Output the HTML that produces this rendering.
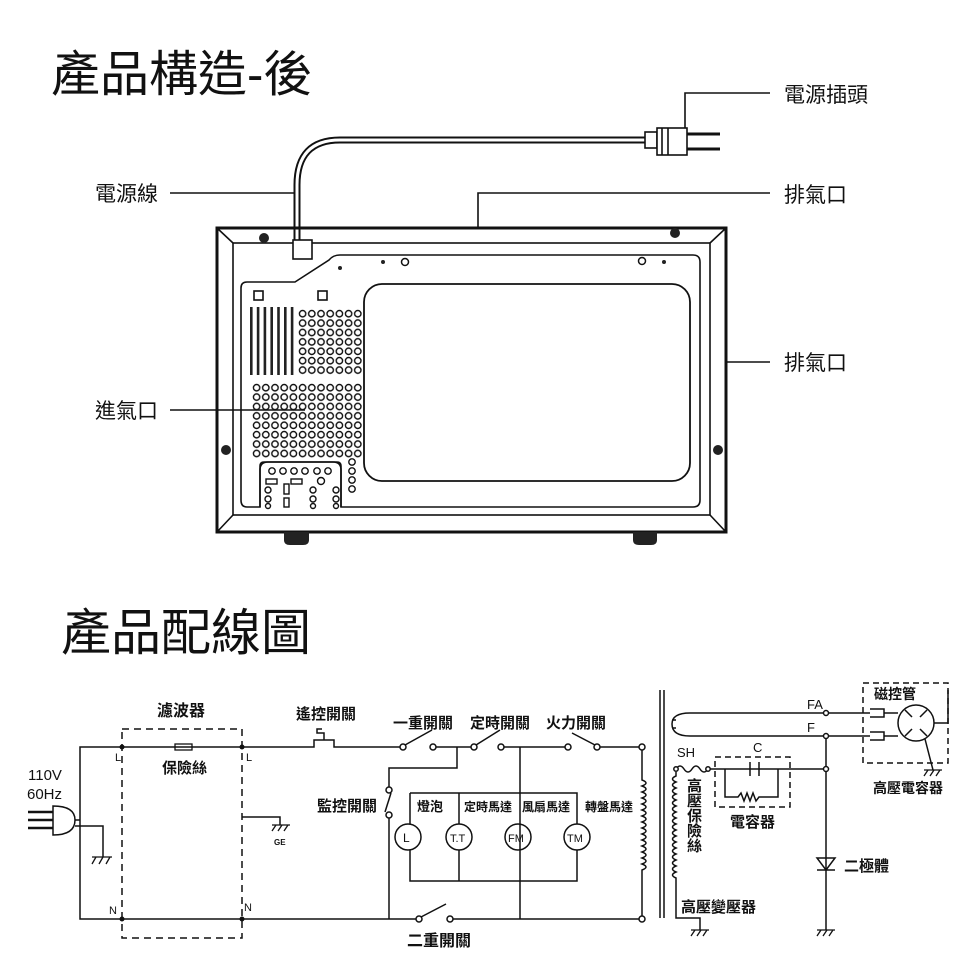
<!DOCTYPE html>
<html><head><meta charset="utf-8"><style>
html,body{margin:0;padding:0;background:#fff}
svg{display:block}
text{font-family:"Liberation Sans","Noto Sans CJK TC",sans-serif;fill:#111}
.b{font-weight:bold}
</style></head><body>
<svg width="980" height="980" viewBox="0 0 980 980" xmlns="http://www.w3.org/2000/svg">
<defs>
<pattern id="holes" x="298" y="309" width="9.2" height="9.4" patternUnits="userSpaceOnUse">
<circle cx="4.6" cy="4.7" r="3.2" fill="none" stroke="#111" stroke-width="1.4"/>
</pattern>
<pattern id="holes2" x="252" y="383" width="9.2" height="9.4" patternUnits="userSpaceOnUse">
<circle cx="4.6" cy="4.7" r="3.2" fill="none" stroke="#111" stroke-width="1.4"/>
</pattern>
</defs>

<!-- Titles -->
<text x="51" y="91" font-size="49">產品構造-後</text>
<text x="61" y="650" font-size="50">產品配線圖</text>

<!-- Labels top -->
<g font-size="21">
<text x="95" y="201">電源線</text>
<text x="95" y="418">進氣口</text>
<text x="784" y="102">電源插頭</text>
<text x="784" y="202">排氣口</text>
<text x="784" y="370">排氣口</text>
</g>
<g stroke="#111" stroke-width="1.6" fill="none">
<path d="M170 193H296"/>
<path d="M170 410H305"/>
<path d="M685 128V93H770"/>
<path d="M478 229V193H770"/>
<path d="M727 362H770"/>
</g>

<!-- cord -->
<path d="M297 241V185Q297 140 340 140H645" fill="none" stroke="#111" stroke-width="7"/>
<path d="M297 241V185Q297 140 340 140H645" fill="none" stroke="#fff" stroke-width="3"/>
<!-- plug -->
<g stroke="#111" stroke-width="1.6" fill="#fff">
<rect x="645" y="132" width="12" height="16"/>
<rect x="657" y="128" width="30" height="27"/>
<path d="M687 134H720M687 149H720" stroke-width="3"/>
<path d="M662 128V155M668 128V155" />
</g>

<!-- microwave body -->
<g stroke="#111" fill="none">
<rect x="217" y="228" width="509" height="304" stroke-width="3"/>
<rect x="233" y="243" width="477" height="272" stroke-width="1.6"/>
<path d="M217 228L233 243M726 228L710 243M217 532L233 515M726 532L710 515" stroke-width="1.6"/>
<path d="M241 288Q241 282 247 282H295L329 260Q333 255 340 255H693Q700 255 700 262V500Q700 507 693 507H341V466Q341 462 337 462H264Q260 462 260 466V507H247Q241 507 241 500Z" stroke-width="1.6"/>
<path d="M260 507V470Q260 462 268 462H333Q341 462 341 470V507" stroke-width="1.6"/>
<rect x="364" y="284" width="326" height="197" rx="18" stroke-width="1.8"/>
<rect x="293" y="240" width="19" height="19" stroke-width="1.6" fill="#fff"/>
<rect x="254" y="291" width="9" height="9" stroke-width="1.6"/>
<rect x="318" y="291" width="9" height="9" stroke-width="1.6"/>
<circle cx="405" cy="262" r="3.5" stroke-width="1.5"/>
<circle cx="642" cy="261" r="3.5" stroke-width="1.5"/>
</g>
<g fill="#222">
<circle cx="340" cy="268" r="2"/><circle cx="383" cy="262" r="2"/><circle cx="664" cy="262" r="2"/>
<circle cx="264" cy="238" r="5"/><circle cx="675" cy="233" r="5"/><circle cx="226" cy="450" r="5"/><circle cx="718" cy="450" r="5"/>
<path d="M284 532H309V540Q309 545 303 545H290Q284 545 284 540Z"/>
<path d="M633 532H657V540Q657 545 651 545H639Q633 545 633 540Z"/>
<rect x="250" y="307" width="2.6" height="68"/><rect x="256.8" y="307" width="2.6" height="68"/>
<rect x="263.6" y="307" width="2.6" height="68"/><rect x="270.4" y="307" width="2.6" height="68"/>
<rect x="277.2" y="307" width="2.6" height="68"/><rect x="284" y="307" width="2.6" height="68"/>
<rect x="290.8" y="307" width="2.6" height="68"/>
</g>
<rect x="298" y="309" width="64.4" height="65.8" fill="url(#holes)"/>
<rect x="252" y="383" width="110.4" height="75.2" fill="url(#holes2)"/>
<g fill="none" stroke="#111" stroke-width="1.4">
<circle cx="352" cy="462" r="3.2"/><circle cx="352" cy="471" r="3.2"/><circle cx="352" cy="480" r="3.2"/><circle cx="352" cy="489" r="3.2"/>
<circle cx="272" cy="471" r="3.2"/><circle cx="283" cy="471" r="3.2"/><circle cx="294" cy="471" r="3.2"/><circle cx="305" cy="471" r="3.2"/><circle cx="317" cy="471" r="3.2"/><circle cx="328" cy="471" r="3.2"/>
<rect x="266" y="479" width="11" height="5"/><rect x="291" y="479" width="11" height="5"/>
<rect x="284" y="484" width="5" height="10"/><rect x="284" y="498" width="5" height="9"/>
<circle cx="321" cy="481" r="3.5"/>
<circle cx="268" cy="490" r="3"/><circle cx="268" cy="499" r="3"/><circle cx="268" cy="506" r="2.5"/>
<circle cx="313" cy="490" r="3"/><circle cx="313" cy="499" r="3"/><circle cx="313" cy="506" r="2.5"/>
<circle cx="336" cy="490" r="3"/><circle cx="336" cy="499" r="3"/><circle cx="336" cy="506" r="2.5"/>
</g>

<!-- ===== Schematic ===== -->
<g stroke="#111" stroke-width="1.5" fill="none">
<path d="M80 820V747H310M338 747H400M436 747H471M504 747H565M600 747H642"/>
<path d="M80 820V919H416M453 919H642"/>
<rect x="122" y="729" width="120" height="209" stroke-dasharray="7,5"/>
<rect x="175" y="744" width="17" height="6" stroke-width="1.3"/>
<path d="M242 817H280V825"/>
<path d="M272 825H290M272 831L276 825M278 831L282 825M284 831L288 825" stroke-width="1.3"/>
<path d="M53 806Q75 806 75 820Q75 835 53 835Z"/>
<path d="M28 812H53M28 820H53M28 828H53" stroke-width="2.5"/>
<path d="M75 820H80M75 826H103V857"/>
<path d="M92 857H112M92 864L96 857M99 864L103 857M106 864L110 857" stroke-width="1.3"/>
<path d="M310 747H314V740H334V747H338M324 740V733H317V729H322"/>
<circle cx="403" cy="747" r="3" fill="#fff"/><circle cx="433" cy="747" r="3" fill="#fff"/><path d="M405 745L432 730"/>
<circle cx="474" cy="747" r="3" fill="#fff"/><circle cx="501" cy="747" r="3" fill="#fff"/><path d="M476 745L500 730"/>
<circle cx="568" cy="747" r="3" fill="#fff"/><circle cx="597" cy="747" r="3" fill="#fff"/><path d="M572 733L595 745"/>
<circle cx="642" cy="747" r="3" fill="#fff"/><circle cx="642" cy="919" r="3" fill="#fff"/>
<path d="M642 750V780 q8 3 0 6 q8 3 0 6 q8 3 0 6 q8 3 0 6 q8 3 0 6 q8 3 0 6 q8 3 0 6 q8 3 0 6 q8 3 0 6 q8 3 0 6 q8 3 0 6 q8 3 0 6 q8 3 0 6 q8 3 0 6 q8 3 0 6 V916"/>
<path d="M457 747V768H389V787M389 818V919"/>
<circle cx="389" cy="790" r="3" fill="#fff"/><circle cx="389" cy="815" r="3" fill="#fff"/><path d="M391 793L385 812"/>
<circle cx="419" cy="919" r="3" fill="#fff"/><circle cx="450" cy="919" r="3" fill="#fff"/><path d="M421 917L446 904"/>
<path d="M520 747V919"/>
<path d="M410 793H577V824M577 850V881H410V850M410 824V793M459 793V824M459 850V881"/>
<circle cx="408" cy="837" r="13"/><circle cx="459" cy="837" r="13"/><circle cx="518" cy="837" r="13"/><circle cx="577" cy="837" r="13"/>
</g>
<g fill="#111">
<circle cx="122" cy="747" r="2.5"/><circle cx="242" cy="747" r="2.5"/><circle cx="122" cy="919" r="2.5"/><circle cx="242" cy="919" r="2.5"/>
</g>
<g font-size="15" class="b">
<text x="157" y="716" font-size="16" class="b">濾波器</text>
<text x="162" y="773" class="b">保險絲</text>
<text x="296" y="719" class="b">遙控開關</text>
<text x="393" y="728" class="b">一重開關</text>
<text x="470" y="728" class="b">定時開關</text>
<text x="546" y="728" class="b">火力開關</text>
<text x="317" y="811" class="b">監控開關</text>
<text x="417" y="811" font-size="13" class="b">燈泡</text>
<text x="464" y="811" font-size="12" class="b">定時馬達</text>
<text x="522" y="811" font-size="12" class="b">風扇馬達</text>
<text x="585" y="811" font-size="12" class="b">轉盤馬達</text>
<text x="407" y="946" font-size="16" class="b">二重開關</text>
</g>
<g font-size="15">
<text x="28" y="780">110V</text>
<text x="27" y="799">60Hz</text>
<text x="115" y="761" font-size="11">L</text><text x="246" y="761" font-size="11">L</text>
<text x="109" y="914" font-size="11">N</text><text x="244" y="911" font-size="11">N</text>
<text x="274" y="845" font-size="8" class="b">GE</text>
<text x="403" y="842" font-size="12">L</text>
<text x="450" y="842" font-size="11">T.T</text>
<text x="508" y="842" font-size="11">FM</text>
<text x="567" y="842" font-size="11">TM</text>
</g>

<!-- HV section -->
<g stroke="#111" stroke-width="1.5" fill="none">
<path d="M660 690V918M664 690V918"/>
<path d="M690 713H824M690 736H824M828 713H870M828 736H870"/>
<path d="M690 713Q672 713 672 724Q672 736 690 736M672 720h4M672 728h4"/>
<circle cx="826" cy="713" r="2.5" fill="#fff"/><circle cx="826" cy="736" r="2.5" fill="#fff"/>
<rect x="863" y="683" width="85" height="80" stroke-dasharray="6,4"/>
<path d="M870 709h14v8h-14M870 732h14v8h-14"/>
<circle cx="916" cy="723" r="18"/>
<path d="M884 713H898M884 736H898M934 723H948V690M905 710L912 717M927 710L920 717M905 736L912 729M927 736L920 729"/>
<path d="M925 739L933 770"/>
<path d="M924 770H942M924 776L928 770M930 776L934 770M936 776L940 770" stroke-width="1.3"/>
<path d="M676 769q4 -6 8 0q4 6 8 0q4 -6 8 0q4 6 8 0H824"/>
<circle cx="676" cy="769" r="2.2" fill="#fff"/><circle cx="708" cy="769" r="2.2" fill="#fff"/>
<circle cx="826" cy="769" r="2.5" fill="#fff"/>
<path d="M826 739V766M826 772V930"/>
<rect x="715" y="757" width="75" height="50" stroke-dasharray="6,4"/>
<path d="M725 769V797H738l3 -4 3 8 3 -8 3 8 3 -8 3 8 3 -4H778V769M750 762V776M759 762V776"/>
<path d="M676 772V776 q-7 3 0 6 q-7 3 0 6 q-7 3 0 6 q-7 3 0 6 q-7 3 0 6 q-7 3 0 6 q-7 3 0 6 q-7 3 0 6 q-7 3 0 6 q-7 3 0 6 q-7 3 0 6 q-7 3 0 6 q-7 3 0 6 q-7 3 0 6 q-7 3 0 6 q-7 3 0 6 q-7 3 0 6 V918H700V930"/>
<path d="M691 930H709M691 936L695 930M697 936L701 930M703 936L707 930" stroke-width="1.3"/>
<path d="M817 930H835M817 936L821 930M823 936L827 930M829 936L833 930" stroke-width="1.3"/>
<path d="M817 858H835L826 870Z M817 870H835"/>
</g>
<g font-size="13">
<text x="807" y="709">FA</text>
<text x="807" y="732">F</text>
<text x="677" y="757">SH</text>
<text x="753" y="752">C</text>
</g>
<g font-size="15" class="b">
<text x="874" y="699" font-size="14" class="b">磁控管</text>
<text x="873" y="793" font-size="14" class="b">高壓電容器</text>
<text x="730" y="827" class="b">電容器</text>
<text x="681" y="912" class="b">高壓變壓器</text>
<text x="844" y="871" class="b">二極體</text>
<text x="687" y="791" class="b">高</text><text x="687" y="806" class="b">壓</text>
<text x="687" y="821" class="b">保</text><text x="687" y="836" class="b">險</text>
<text x="687" y="851" class="b">絲</text>
</g>
</svg>
</body></html>
